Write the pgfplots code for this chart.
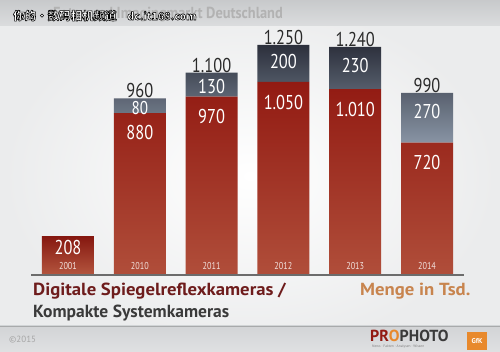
\documentclass[border=0pt]{standalone}
\usepackage{pgfplots}
\pgfplotsset{compat=1.18}
\usepackage{pgfplotstable}
\usepackage{fontspec}
\setmainfont{PT Sans}
\newfontfamily\cond[FakeStretch=0.82]{PT Sans}
\newfontfamily\condb[FakeStretch=0.9]{PT Sans}
\newfontfamily\wideb[FakeStretch=1.07]{PT Sans}
\newfontfamily\cjk{Noto Sans CJK SC}
\definecolor{redT}{HTML}{921A12}
\definecolor{redB}{HTML}{B04E3A}
\definecolor{redT1}{HTML}{861810}
\definecolor{redB1}{HTML}{B4563F}
\definecolor{darkT}{HTML}{2C303C}
\definecolor{darkB}{HTML}{8894A4}
\definecolor{txtred}{HTML}{6E1C1C}
\definecolor{txtgray}{HTML}{3A3A3A}
\definecolor{orangeT}{HTML}{C8844E}
\definecolor{gfk}{HTML}{E8892C}
\definecolor{hdr}{HTML}{D2D4D6}
\definecolor{totc}{HTML}{2A2A2A}
\definecolor{yearc}{HTML}{F2E2DE}

\pgfplotstableread{
x red dark
1 880 80
2 970 130
3 1050 200
4 1010 230
5 720 270
}\datatable

\pgfplotstableread{
x val
0 208
}\firsttable

\newcommand{\outl}[1]{\special{pdf:literal direct 2 Tr 0.55 w 0 0 0 RG}#1\special{pdf:literal direct 0 Tr}}

\pgfplotsset{common/.style={at={(31pt,77pt)}, anchor=south west, scale only axis,
  width=433pt, height=257.6pt, xmin=-0.515, xmax=5.515, ymin=0, ymax=1400,
  axis lines=none, ticks=none, clip=false}}

\begin{document}
\begin{tikzpicture}[x=1pt,y=1pt]
\useasboundingbox (0,0) rectangle (500,352);
% background
\shade[inner color=white, outer color=hdr!45] (0,0) rectangle (500,352);
\shade[top color=hdr!95!black, bottom color=hdr!80] (0,326) rectangle (500,352);
\shade[top color=hdr, bottom color=hdr!70] (0,0) rectangle (500,26);
\draw[hdr!80!black, line width=0.6pt] (0,26) -- (500,26);

% header title (partly hidden)
\node[anchor=base east, inner sep=0pt, text=gray!60, font=\condb\bfseries\fontsize{16}{18}\selectfont] at (283,333.5) {Foto- und Imagingmarkt Deutschland};
% watermark (white text, black outline)
\node[anchor=base west, inner sep=0pt, text=white, font=\cjk\bfseries\fontsize{11.5}{13}\selectfont] at (13,332) {\outl{你的·数码相机频道}};
\node[anchor=base west, inner sep=0pt, text=white, font=\cjk\bfseries\fontsize{10.5}{12}\selectfont] at (127,332) {\outl{dc.it168.com}};

% 2001 bar (separate)
\begin{axis}[common, ybar, bar width=52pt, bar shift=0pt]
\addplot[draw=none, top color=redT1, bottom color=redB1] table[x=x,y=val]{\firsttable};
\end{axis}

\begin{axis}[common, ybar stacked, bar width=52pt]
\addplot[draw=none, top color=redT, bottom color=redB] table[x=x,y=red]{\datatable};
\addplot[draw=none, top color=darkT, bottom color=darkB] table[x=x,y=dark]{\datatable};
\end{axis}

% labels axis
\begin{axis}[common]
\draw[gray!85!black, line width=1.8pt] (axis cs:-0.515,0) -- (axis cs:5.515,0);
\tikzset{tot/.style={anchor=base, inner sep=0pt, yshift=0.5pt, text=totc, font=\cond\fontsize{20}{22}\selectfont},
         val/.style={text=white, inner sep=0pt, font=\cond\fontsize{20}{22}\selectfont},
         yr/.style={text=yearc, inner sep=0pt, font=\cond\fontsize{10}{12}\selectfont}}
% totals
\node[tot] at (axis cs:1,960) {960};
\node[tot] at (axis cs:2,1100) {1.100};
\node[tot] at (axis cs:3,1250) {1.250};
\node[tot] at (axis cs:4,1240) {1.240};
\node[tot] at (axis cs:5,990) {990};
% dark segment values
\node[val, font=\cond\fontsize{18.5}{20}\selectfont] at (axis cs:1,905) {80};
\node[val] at (axis cs:2,1022) {130};
\node[val] at (axis cs:3,1158) {200};
\node[val] at (axis cs:4,1141) {230};
\node[val] at (axis cs:5,886) {270};
% red values
\node[val] at (axis cs:0,147) {208};
\node[val] at (axis cs:1,772) {880};
\node[val] at (axis cs:2,859) {970};
\node[val] at (axis cs:3,935) {1.050};
\node[val] at (axis cs:4,902) {1.010};
\node[val] at (axis cs:5,614) {720};
% years
\node[yr] at (axis cs:0,49) {2001};
\node[yr] at (axis cs:1,49) {2010};
\node[yr] at (axis cs:2,49) {2011};
\node[yr] at (axis cs:3,49) {2012};
\node[yr] at (axis cs:4,49) {2013};
\node[yr] at (axis cs:5,49) {2014};
\end{axis}

% bottom texts
\node[anchor=base west, inner sep=0pt, text=txtred, font=\wideb\bfseries\fontsize{17.5}{20}\selectfont] at (33,56) {Digitale Spiegelreflexkameras /};
\node[anchor=base west, inner sep=0pt, text=txtgray, font=\bfseries\fontsize{17.5}{20}\selectfont] at (33,34) {Kompakte Systemkameras};
\node[anchor=base west, inner sep=0pt, text=orangeT, font=\wideb\bfseries\fontsize{17.5}{20}\selectfont] at (360,56) {Menge in Tsd.};

% footer
\node[anchor=west, inner sep=0pt, text=gray!70, font=\fontsize{9}{10}\selectfont] at (9,12) {©2015};
\node[anchor=base west, inner sep=0pt, font=\bfseries\fontsize{16}{17}\selectfont] at (370,10) {\textcolor{redT}{PR}\textcolor{gfk}{O}\textcolor{txtgray}{PHOTO}};
\node[anchor=base west, inner sep=0pt, text=gray, font=\fontsize{3.6}{4}\selectfont] at (372,4) {News · Fakten · Analysen · Wissen};
\fill[gfk] (467,2) rectangle (487,20);
\node[text=white, inner sep=0pt, font=\bfseries\fontsize{7}{8}\selectfont] at (477,11) {GfK};
\end{tikzpicture}
\end{document}
